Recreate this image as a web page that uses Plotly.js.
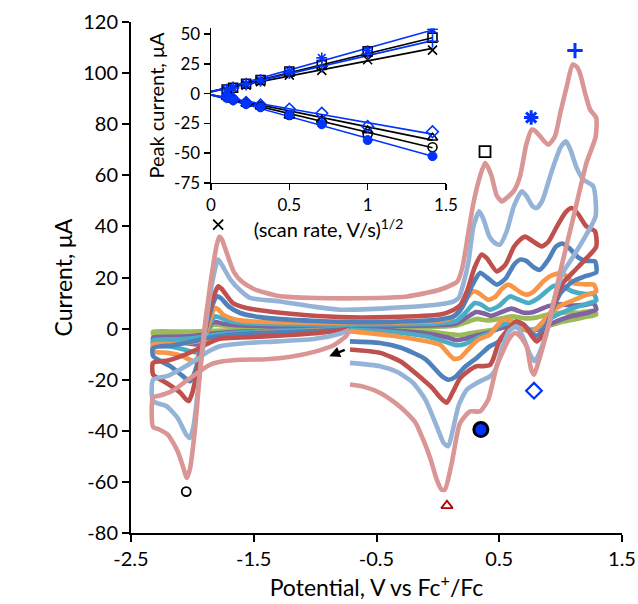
<!DOCTYPE html>
<html>
<head>
<meta charset="utf-8">
<script src="https://cdn.plot.ly/plotly-3.0.1.min.js"></script>
<style>html,body{margin:0;padding:0;background:#fff;}#chart{width:638px;height:604px;}</style>
</head>
<body>
<div id="chart"></div>
<script>
// ---------- Main CV curves (potential V vs Fc+/Fc, current uA), drawn in scan order ----------
const cv_green_V = [-0.72,-1.2,-1.6,-1.9,-2.1,-2.32, -2.32,-2.15,-2.02,-1.96,-1.91,-1.86,-1.83,-1.79,-1.65,-1.0,-0.5,0.0,0.15,0.25,0.32,0.4,0.5,0.6,0.72,0.8,0.92,1.05,1.15,1.27, 1.29,1.2,1.1,1.0,0.9,0.8,0.75,0.65,0.55,0.45,0.3,0.18,0.1,-0.1,-0.4,-0.72];
const cv_green_I = [0,-0.3,-0.6,-1,-1.2,-1.2, -2.2,-2.6,-3.2,-3.4,-2,0.3,1.5,1.4,0.8,0.5,0.5,0.7,1.2,2.8,3.8,3.2,3.8,4.8,4,4.3,5.8,6.3,6.2,7, 5.5,4.5,3.5,2.5,1,-0.3,-0.5,0.5,0.5,-0.5,-1.5,-2.5,-2.2,-1,-0.4,-0.2];

const cv_purple_V = [-0.72,-1.2,-1.6,-1.85,-2.0,-2.15,-2.32, -2.32,-2.15,-2.03,-1.96,-1.92,-1.87,-1.84,-1.81,-1.75,-1.6,-1.0,-0.5,0.0,0.15,0.24,0.31,0.37,0.43,0.52,0.6,0.7,0.78,0.9,1.0,1.1,1.2,1.27, 1.29,1.2,1.1,1.0,0.9,0.8,0.75,0.68,0.6,0.5,0.42,0.33,0.22,0.15,0.08,-0.1,-0.4,-0.72];
const cv_purple_I = [-0.1,-0.6,-1.2,-2,-2.8,-3.2,-3.5, -4.5,-5,-5.8,-6.2,-4,0,2.2,2.6,1.9,1.2,1.0,1.0,1.3,2,4.5,6.5,6,5,6.5,7.8,6.2,6.5,8.8,9.5,9,9.3,9.8, 7.5,6,5,3.5,1.5,-0.5,-1,0,1.2,0,-1.5,-2.5,-4,-4.5,-3.5,-1.8,-0.8,-0.4];

const cv_teal_V = [-0.72,-1.2,-1.6,-1.8,-1.95,-2.1,-2.32, -2.32,-2.18,-2.06,-1.97,-1.93,-1.88,-1.84,-1.81,-1.78,-1.7,-1.5,-1.0,-0.5,0.0,0.15,0.22,0.3,0.35,0.42,0.5,0.587,0.65,0.737,0.82,0.94,1.0,1.1,1.2,1.27, 1.29,1.2,1.1,1.0,0.92,0.85,0.8,0.75,0.68,0.6,0.5,0.43,0.33,0.22,0.15,0.05,-0.1,-0.4,-0.72];
const cv_teal_I = [-0.2,-0.8,-1.5,-2.3,-3.5,-4.2,-4.6, -6.5,-7,-8.3,-9.3,-7,-1,3.5,4.8,4.4,3,2,1.6,1.6,2,3,6,10,9.5,7.4,9,12.6,11.5,10,12,16.6,16.8,14.5,13.5,13.5, 11,9.5,8,6,4,1.5,0,-0.6,1,2.5,1,-1.5,-3.5,-6,-6.5,-5,-3,-1.2,-0.5];

const cv_orange_V = [-0.72,-1.0,-1.5,-1.75,-1.9,-2.0,-2.15,-2.32, -2.32,-2.2,-2.1,-2.02,-1.98,-1.95,-1.9,-1.86,-1.83,-1.816,-1.79,-1.75,-1.65,-1.5,-1.0,-0.5,0.0,0.1,0.18,0.24,0.289,0.33,0.41,0.47,0.52,0.574,0.62,0.68,0.724,0.78,0.86,0.913,1.01,1.06,1.1,1.2,1.27, 1.29,1.2,1.1,1.0,0.92,0.86,0.8,0.75,0.7,0.6,0.533,0.47,0.42,0.33,0.25,0.18,0.13,0.08,0.017,-0.335,-0.72];
const cv_orange_I = [-0.3,-0.8,-1.8,-3,-4.5,-5.3,-6,-6.3, -8.9,-9.5,-10.5,-12.2,-12.8,-10.5,-3.5,3,7,8.1,7.5,5.5,3.6,2.8,2.3,2.3,3,4,7,12,14.6,14,11.3,12.5,15.5,17.2,16,14,13.3,14.5,18.5,20.5,21.8,20,17.9,17.3,17.2, 14.5,13,11,9,6.5,3,0,-1.2,0,3,3.5,0.5,-2.5,-4.3,-8,-11.5,-11.8,-9.5,-6.3,-3,-1];

const cv_blue_V = [-0.72,-1.0,-1.45,-1.7,-1.88,-2.0,-2.15,-2.32, -2.32,-2.18,-2.08,-2.02,-1.98,-1.93,-1.88,-1.83,-1.8,-1.77,-1.7,-1.61,-1.45,-1.0,-0.5,0.0,0.13,0.2,0.28,0.343,0.4,0.48,0.55,0.62,0.67,0.72,0.78,0.83,0.9,0.96,1.01,1.07,1.14,1.2,1.28, 1.29,1.2,1.1,1.0,0.94,0.88,0.83,0.8,0.76,0.7,0.64,0.58,0.52,0.479,0.42,0.35,0.316,0.22,0.14,0.085,0.03,-0.1,-0.3,-0.47,-0.716];
const cv_blue_I = [-0.2,-1,-1.7,-2.5,-3.7,-5,-6.5,-7.6, -10.8,-14.7,-18.5,-20.6,-17,-8,2,10,12.6,12,8.5,6.1,4.5,3,2.5,3.5,4.8,8.5,17,21.8,20,17.2,19.5,25,27,26.5,24,23,27,32,33.3,31.5,28,26.5,26.3, 22,20.5,18.5,14,8,1,-2,-2.8,-1.5,1.5,2.5,0,-4,-5.6,-7,-10,-11.5,-15,-19,-20,-18.5,-12,-7.5,-5.6,-5];

const cv_red_V = [-0.72,-1.0,-1.3,-1.6,-1.775,-1.88,-1.965,-2.1,-2.2,-2.32, -2.32,-2.21,-2.1,-2.05,-2.03,-2.0,-1.95,-1.9,-1.85,-1.8,-1.79,-1.76,-1.67,-1.55,-1.45,-1.2,-0.8,-0.4,0.02,0.13,0.18,0.24,0.3,0.357,0.4,0.479,0.55,0.62,0.67,0.71,0.78,0.846,0.9,0.97,1.04,1.09,1.14,1.21,1.28, 1.29,1.2,1.1,1.02,0.94,0.886,0.84,0.805,0.76,0.7,0.64,0.58,0.506,0.45,0.425,0.37,0.316,0.25,0.18,0.12,0.072,0.02,-0.05,-0.12,-0.3,-0.47,-0.716];
const cv_red_I = [-0.3,-1.8,-2.8,-3.5,-4,-6,-8.2,-11,-12.5,-13.4, -18,-21.3,-25,-27.8,-28.4,-25,-14,-2,9,15.8,16.6,15.5,10,8,7.2,5.8,4.5,4.5,5.5,7.4,9,15,24,29,27.5,22.4,25,32,34.8,36,34,32.2,34,40,45.5,47.2,45,40,38.1, 32,27,22,17.9,8.7,-0.4,-3.5,-5,-2.5,1.5,2.9,0,-4.3,-12,-14.2,-14.7,-14.7,-16.5,-19.5,-25,-29,-27,-23,-20,-13,-9.5,-8.2];

const cv_lightblue_V = [-0.72,-0.8,-1.0,-1.3,-1.6,-1.775,-1.87,-1.965,-2.1,-2.2,-2.32, -2.32,-2.21,-2.12,-2.05,-2.02,-1.99,-1.95,-1.9,-1.85,-1.8,-1.79,-1.76,-1.69,-1.6,-1.53,-1.3,-1.0,-0.8,-0.4,0.0,0.13,0.17,0.21,0.248,0.29,0.337,0.37,0.42,0.465,0.506,0.56,0.62,0.683,0.72,0.77,0.805,0.85,0.93,1.0,1.044,1.08,1.13,1.185,1.266, 1.285,1.2,1.1,1.02,0.95,0.9,0.84,0.79,0.75,0.7,0.64,0.58,0.52,0.47,0.425,0.37,0.316,0.235,0.17,0.12,0.085,0.05,-0.01,-0.1,-0.2,-0.33,-0.47,-0.716];
const cv_lightblue_I = [-0.5,-2,-4,-5,-5.8,-6.9,-9,-12.1,-16,-18.5,-20, -28.4,-30.4,-35,-41.5,-42.8,-38,-22,-2,15,26,27,25,19.2,14.5,12,10.7,8.5,7.4,8,9.4,10.7,12,18,25.7,40,45.9,43,36,33.5,32.9,38,48,53.7,52,48,47.2,50,62,71,73.3,70,63,58.3,55.7, 44,36,28,22,12,1,-8,-12.8,-10,-4,0.9,-1,-8,-16,-18.7,-20,-21.3,-23.9,-30,-40,-46,-45,-38.2,-28,-21.3,-17,-14.7,-13.4];

const cv_pink_V = [-0.72,-0.75,-0.85,-1.0,-1.2,-1.4,-1.6,-1.75,-1.85,-1.95,-2.05,-2.15,-2.25,-2.32, -2.32,-2.27,-2.2,-2.12,-2.07,-2.047,-2.02,-1.98,-1.924,-1.856,-1.8,-1.78,-1.76,-1.72,-1.66,-1.6,-1.5,-1.3,-1.0,-0.5,-0.25,0.0,0.13,0.16,0.2,0.25,0.29,0.343,0.384,0.41,0.438,0.48,0.52,0.56,0.62,0.669,0.72,0.764,0.79,0.832,0.9,0.954,1.0,1.05,1.098,1.13,1.157,1.2,1.24,1.29, 1.285,1.21,1.1,1.0,0.913,0.85,0.8,0.783,0.76,0.723,0.67,0.628,0.58,0.52,0.479,0.41,0.343,0.262,0.18,0.113,0.057,0.03,-0.01,-0.06,-0.12,-0.18,-0.254,-0.35,-0.47,-0.6,-0.716];
const cv_pink_I = [-0.5,-3,-6.5,-9,-11,-12,-12.2,-12.8,-14,-17,-20.5,-24,-26,-27, -38.5,-39.5,-41.5,-48,-55,-58.5,-55,-40,-9.5,16.6,33,36,35,29.6,22,18.5,15.5,12.8,12,12,12.6,15,17.5,18.5,24,38,49.2,59.6,64.8,63,59.6,52,49.8,51.1,54,59.6,72,77.9,77.5,75.3,72,75.3,85,94.8,103.3,102.5,100,92,85.7,82.5, 75,64.8,42.7,23,3.5,-8,-16,-18,-16,-7,-3,-1.7,-4,-10,-14.7,-27.8,-32.4,-32.4,-37,-52.6,-63,-63,-59,-51,-43.4,-37,-33,-29,-25.2,-22.8,-21.9];

// peak label markers on the main plot
const peakLabel_x_V = [-1.79]; const peakLabel_x_I = [40.7];
const peakLabel_o_V = [-2.05]; const peakLabel_o_I = [-63.8];
const peakLabel_tri_V = [0.074]; const peakLabel_tri_I = [-69.3];
const peakLabel_dot_V = [0.35]; const peakLabel_dot_I = [-39.5];
const peakLabel_dia_V = [0.783]; const peakLabel_dia_I = [-24.3];
const peakLabel_sq_V = [0.384]; const peakLabel_sq_I = [69.3];
const peakLabel_ast_V = [0.76]; const peakLabel_ast_I = [82.6];
const peakLabel_plus_V = [1.117]; const peakLabel_plus_I = [108.8];

// ---------- Inset: peak current vs sqrt(scan rate) ----------
const sqrtRate = [0.1, 0.141, 0.224, 0.316, 0.5, 0.707, 1.0, 1.414];
const ip_cross   = [3, 4.5, 7, 10, 15.5, 19.5, 28.5, 36.5];
const ip_square  = [3.5, 5, 8.3, 11.5, 18.5, 24, 35.5, 47];
const ip_aster   = [3.5, 5, 8.5, 11.5, 19, 30, 36, 54];
const ip_plus    = [3, 4.8, 8, 11, 17.5, 23, 33.5, 44];
const ip_circle  = [-3, -5, -8.3, -10.6, -18, -24.5, -34, -45];
const ip_tri     = [-2.8, -5, -8.4, -11, -18.5, -22, -31, -37];
const ip_dot     = [-3, -5.5, -8.5, -11.5, -18, -25.7, -39, -52.5];
const ip_diamond = [-2.5, -4.5, -7.5, -9.5, -13, -16.5, -27.5, -32];
// trendline end points (x = 0 and x = 1.414)
const fitX = [0, 1.414];
const fit_cross = [2, 38];
const fit_square = [1.5, 47];
const fit_aster = [1.5, 53.5];
const fit_plus = [1.5, 44.5];
const fit_circle = [-1, -45.5];
const fit_tri = [-1, -39];
const fit_dot = [-1, -52.5];
const fit_diamond = [-1, -34];

// scan-direction arrow head position
const arrowHead = [-0.885, -10.8];

const FONT = 'Lato, "Noto Sans", sans-serif';
const BLUE = '#0033ff';

const cvSeries = [
  [cv_green_V, cv_green_I, '#9bbb59'],
  [cv_purple_V, cv_purple_I, '#8064a2'],
  [cv_teal_V, cv_teal_I, '#4bacc6'],
  [cv_orange_V, cv_orange_I, '#f79646'],
  [cv_blue_V, cv_blue_I, '#4f81bd'],
  [cv_red_V, cv_red_I, '#c0504d'],
  [cv_lightblue_V, cv_lightblue_I, '#95b3d7'],
  [cv_pink_V, cv_pink_I, '#d99694']
];

const traces = [];
cvSeries.forEach(s => {
  traces.push({x: s[0], y: s[1], type: 'scatter', mode: 'lines', xaxis: 'x', yaxis: 'y',
    line: {color: s[2], width: 4.6, shape: 'spline', smoothing: 0.6}, hoverinfo: 'skip', showlegend: false});
});

function mk(x, y, sym, color, size, lw, fill, lineColor) {
  return {x: x, y: y, type: 'scatter', mode: 'markers', xaxis: 'x', yaxis: 'y', showlegend: false,
    marker: {symbol: sym, size: size, color: fill || color, line: {color: lineColor || color, width: lw}}};
}
traces.push(mk(peakLabel_x_V, peakLabel_x_I, 'x-thin-open', '#000', 10, 1.8));
traces.push(mk(peakLabel_o_V, peakLabel_o_I, 'circle-open', '#000', 9, 1.8));
traces.push(mk(peakLabel_tri_V, peakLabel_tri_I, 'triangle-up-open', '#b00000', 10, 1.8));
traces.push(mk(peakLabel_dot_V, peakLabel_dot_I, 'circle', BLUE, 14, 3, BLUE, '#000'));
traces.push(mk(peakLabel_dia_V, peakLabel_dia_I, 'diamond-open', BLUE, 12, 2.2));
traces.push(mk(peakLabel_sq_V, peakLabel_sq_I, 'square-open', '#000', 11, 1.8));
traces.push(mk(peakLabel_ast_V, peakLabel_ast_I, 'asterisk-open', BLUE, 12, 3));
traces.push(mk(peakLabel_plus_V, peakLabel_plus_I, 'cross-thin-open', BLUE, 11, 3));

// inset trendlines
[[fit_cross,'#000'],[fit_square,'#000'],[fit_aster,BLUE],[fit_plus,BLUE],
 [fit_circle,'#000'],[fit_tri,'#000'],[fit_dot,BLUE],[fit_diamond,BLUE]].forEach(f => {
  traces.push({x: fitX, y: f[0], type: 'scatter', mode: 'lines', xaxis: 'x2', yaxis: 'y2',
    line: {color: f[1], width: 1.6}, showlegend: false, hoverinfo: 'skip'});
});
function imk(y, sym, color, size, lw, fill, lineColor) {
  return {x: sqrtRate, y: y, type: 'scatter', mode: 'markers', xaxis: 'x2', yaxis: 'y2', showlegend: false,
    marker: {symbol: sym, size: size, color: fill || color, line: {color: lineColor || color, width: lw}}};
}
traces.push(imk(ip_cross, 'x-thin-open', '#000', 9, 1.6));
traces.push(imk(ip_square, 'square-open', '#000', 9, 1.6));
traces.push(imk(ip_plus, 'cross-thin-open', BLUE, 9, 1.6));
traces.push(imk(ip_aster, 'asterisk-open', BLUE, 9, 1.6));
traces.push(imk(ip_tri, 'triangle-up-open', '#000', 9, 1.6));
traces.push(imk(ip_circle, 'circle-open', '#000', 9, 1.6));
traces.push(imk(ip_diamond, 'diamond-open', BLUE, 9, 1.6));
traces.push(imk(ip_dot, 'circle', BLUE, 9, 1, BLUE, BLUE));

const axBase = {showgrid: false, zeroline: false, showline: true, linecolor: '#000', ticks: 'outside',
  tickcolor: '#000', automargin: false};

const layout = {
  width: 638, height: 604,
  margin: {l: 131, r: 16, t: 22, b: 71},
  paper_bgcolor: '#fff', plot_bgcolor: '#fff',
  font: {family: FONT, color: '#000'},
  showlegend: false,
  xaxis: Object.assign({}, axBase, {range: [-2.5, 1.5], tickvals: [-2.5, -1.5, -0.5, 0.5, 1.5],
    ticktext: ['-2.5', '-1.5', '-0.5', '0.5', '1.5'],
    linewidth: 2, tickwidth: 2, ticklen: 7, tickfont: {size: 20, family: FONT},
    title: {text: 'Potential, V vs Fc<sup>+</sup>/Fc', font: {size: 23, family: FONT}, standoff: 8}}),
  yaxis: Object.assign({}, axBase, {range: [-80, 120], tickvals: [-80,-60,-40,-20,0,20,40,60,80,100,120],
    ticktext: ['-80','-60','-40','-20','0','20','40','60','80','100','120'],
    linewidth: 2, tickwidth: 2, ticklen: 7, tickfont: {size: 20, family: FONT},
    title: {text: 'Current, μA', font: {size: 23, family: FONT}, standoff: 4}}),
  xaxis2: Object.assign({}, axBase, {domain: [0.163, 0.6415], anchor: 'y2', range: [0, 1.5],
    tickvals: [0, 0.5, 1, 1.5], ticktext: ['0', '0.5', '1', '1.5'],
    linewidth: 1.5, tickwidth: 1.5, ticklen: 6, tickfont: {size: 17, family: FONT},
    title: {text: '(scan rate, V/s)<sup>1/2</sup>', font: {size: 20, family: FONT}, standoff: 2}}),
  yaxis2: Object.assign({}, axBase, {domain: [0.685, 0.988], anchor: 'x2', range: [-75, 55],
    tickvals: [-75, -50, -25, 0, 25, 50], ticktext: ['-75', '-50', '-25', '0', '25', '50'],
    linewidth: 1.5, tickwidth: 1.5, ticklen: 6, tickfont: {size: 17, family: FONT},
    title: {text: 'Peak current, μA', font: {size: 20, family: FONT}, standoff: 4}}),
  annotations: [{
    x: arrowHead[0], y: arrowHead[1], xref: 'x', yref: 'y', ax: 17, ay: -7,
    showarrow: true, arrowhead: 2, arrowsize: 0.9, arrowwidth: 2.4, arrowcolor: '#000', text: ''
  }]
};

Plotly.newPlot('chart', traces, layout, {staticPlot: true, displayModeBar: false});
</script>
</body>
</html>
